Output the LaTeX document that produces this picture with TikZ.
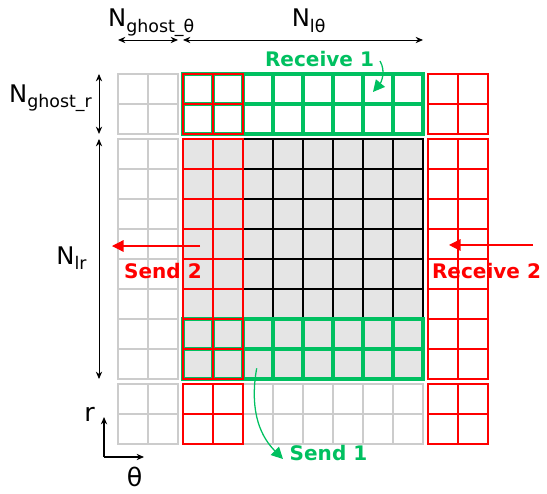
\documentclass[tikz,border=0pt]{standalone}
\usepackage{fontspec}
\setmainfont{DejaVu Sans}
\usetikzlibrary{arrows.meta, positioning}
\definecolor{sendred}{RGB}{255,0,0}
\definecolor{sendgreen}{RGB}{0,192,96}
\definecolor{ghostgray}{RGB}{204,204,204}
\definecolor{cellfill}{RGB}{229,229,229}
\newcommand\dimsub[1]{\raisebox{-5pt}{\fontsize{16.5}{16.5}\selectfont #1}}
\tikzset{
  ghostgrid/.style = {draw=ghostgray, line width=1.1pt, line cap=rect},
  localgrid/.style = {draw=black, line width=1.5pt, line cap=rect},
  redgrid/.style = {draw=sendred, line width=2.7pt, line cap=rect},
  greengrid/.style = {draw=sendgreen, line width=3.6pt, line cap=rect},
  dimarrow/.style = {{Stealth[length=7pt,width=6pt]}-{Stealth[length=7pt,width=6pt]}, line width=0.9pt},
  dimlabel/.style = {font=\fontsize{23}{23}\selectfont, inner sep=0},
  msglabel/.style = {font=\fontsize{19}{19}\selectfont\bfseries, inner sep=0},
  msgarrow/.style = {-{Triangle[length=11pt,width=11pt]}, line width=1.2pt},
  axisarrow/.style = {-{Stealth[length=7pt,width=6pt]}, line width=1.1pt},
  axislabel/.style = {font=\fontsize{24}{24}\selectfont, inner sep=0},
}

\begin{document}
\begin{tikzpicture}[x=1cm, y=1cm]
  \useasboundingbox (-6.1,-3.8) rectangle (12.133,12.633);

  % ghost cells on the left and below
  \foreach \y/\h in {-2.1667/2, 0/8, 8.1667/2}{
    \draw [ghostgrid, shift={(-2.1667,\y)}] (0,0) grid (2,\h);
  }
  \draw [ghostgrid, shift={(0,-2.1667)}] (0,0) grid (8,2);

  % local block
  \fill [cellfill] (0,0) rectangle (8,8);
  \draw [localgrid] (0,0) grid (8,8);

  % exchange along r
  \draw [greengrid] (0,0) grid (8,2);
  \draw [greengrid, shift={(0,8.1667)}] (0,0) grid (8,2);

  % exchange along theta
  \draw [redgrid] (0,0) grid (2,8);
  \foreach \y in {-2.1667, 8.1667}{
    \draw [redgrid, shift={(0,\y)}] (0,0) grid (2,2);
  }
  \foreach \y/\h in {-2.1667/2, 0/8, 8.1667/2}{
    \draw [redgrid, shift={(8.1667,\y)}] (0,0) grid (2,\h);
  }

  % sizes
  \coordinate (gtL) at (-2.1667,11.3);
  \coordinate (gtR) at (-0.1667,11.3);
  \coordinate (ltL) at (0,11.3);
  \coordinate (ltR) at (8,11.3);
  \coordinate (grT) at (-2.8,10.1667);
  \coordinate (grB) at (-2.8,8.1667);
  \coordinate (lrT) at (-2.8,8);
  \coordinate (lrB) at (-2.8,0);
  \draw [dimarrow] (gtL) -- (gtR);
  \draw [dimarrow] (ltL) -- (ltR);
  \draw [dimarrow] (grT) -- (grB);
  \draw [dimarrow] (lrT) -- (lrB);
  \node (ngt) [dimlabel, anchor=base west] at (-2.5,11.733) {N\dimsub{ghost\_θ}};
  \node (nlt) [dimlabel, anchor=base west] at (3.62,11.733) {N\dimsub{lθ}};
  \node (ngr) [dimlabel, anchor=base east] at (-3.033,9.233) {N\dimsub{ghost\_r}};
  \node (nlr) [dimlabel, anchor=base east] at (-3.21,3.833) {N\dimsub{lr}};

  % messages
  \coordinate (s2from) at (0.567,4.433);
  \coordinate (s2to) at (-2.367,4.433);
  \draw [msgarrow, sendred] (s2from) -- (s2to);
  \node (send2) [msglabel, text=sendred] at (-0.667,3.6) {Send 2};

  \coordinate (r2from) at (11.667,4.467);
  \coordinate (r2to) at (8.867,4.467);
  \draw [msgarrow, sendred] (r2from) -- (r2to);
  \node (recv2) [msglabel, text=sendred] at (10.117,3.6) {Receive 2};

  \node (recv1) [msglabel, text=sendgreen] at (4.55,10.65) {Receive 1};
  \coordinate (r1from) at (6.567,10.6);
  \coordinate (r1to) at (6.333,9.567);
  \draw [msgarrow, sendgreen] (r1from) to[out=-60, in=50] (r1to);

  \coordinate (s1from) at (2.456,0.356);
  \coordinate (s1to) at (3.333,-2.667);
  \draw [msgarrow, sendgreen] (s1from) to[out=-100, in=135] (s1to);
  \node (send1) [msglabel, text=sendgreen] at (4.85,-2.467) {Send 1};

  % axes
  \coordinate (origin) at (-2.633,-2.6);
  \coordinate (raxis) at (-2.633,-1.267);
  \coordinate (taxis) at (-1.3,-2.6);
  \draw [axisarrow] (origin) -- (raxis);
  \draw [axisarrow] (origin) -- (taxis);
  \node (rlabel) [axislabel] at (-3.117,-1.183) {r};
  \node (tlabel) [axislabel] at (-1.617,-3.267) {θ};
\end{tikzpicture}
\end{document}
